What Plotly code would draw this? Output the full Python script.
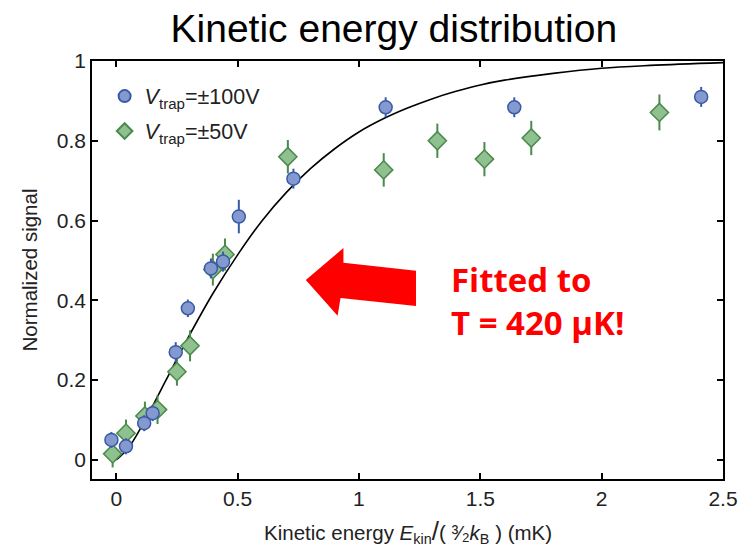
import plotly.graph_objects as go

# ---- data ----
blue_x = [-0.02, 0.04, 0.115, 0.15, 0.245, 0.295, 0.39, 0.44, 0.505, 0.73, 1.11, 1.64, 2.41]
blue_y = [0.05, 0.034, 0.092, 0.117, 0.27, 0.38, 0.48, 0.497, 0.61, 0.705, 0.884, 0.884, 0.91]
blue_err = [0.02, 0.02, 0.02, 0.02, 0.025, 0.022, 0.025, 0.025, 0.042, 0.025, 0.025, 0.025, 0.025]

green_x = [-0.015, 0.04, 0.118, 0.17, 0.25, 0.304, 0.398, 0.448, 0.707, 1.102, 1.323, 1.517, 1.71, 2.238]
green_y = [0.015, 0.067, 0.11, 0.126, 0.221, 0.286, 0.477, 0.515, 0.76, 0.727, 0.80, 0.754, 0.807, 0.871]
green_err = [0.034, 0.034, 0.036, 0.036, 0.035, 0.039, 0.04, 0.04, 0.042, 0.042, 0.043, 0.043, 0.043, 0.045]

fit_x = [0.0, 0.05, 0.1, 0.15, 0.2, 0.25, 0.3, 0.4, 0.5, 0.6, 0.7, 0.8, 0.9, 1.0,
         1.1, 1.2, 1.3, 1.4, 1.5, 1.6, 1.8, 2.0, 2.2, 2.5]
fit_y = [0.0, 0.03, 0.079, 0.135, 0.194, 0.253, 0.311, 0.419, 0.514, 0.599, 0.670, 0.730,
         0.780, 0.822, 0.855, 0.882, 0.905, 0.924, 0.940, 0.952, 0.969, 0.982, 0.989, 0.996]

x_ticks = [0, 0.5, 1, 1.5, 2, 2.5]
x_tick_text = ["0", "0.5", "1", "1.5", "2", "2.5"]
y_ticks = [0, 0.2, 0.4, 0.6, 0.8, 1]
y_tick_text = ["0", "0.2", "0.4", "0.6", "0.8", "1"]

BLUE_EDGE = "#3b5aa6"
BLUE_FILL = "#8499cf"
GREEN_EDGE = "#4a8a4a"
GREEN_FILL = "#8fc08f"
FONT = "Liberation Sans, Arial, sans-serif"

fig = go.Figure()

fig.add_trace(go.Scatter(
    x=fit_x, y=fit_y, mode="lines", line=dict(color="black", width=1.6, shape="spline"),
    showlegend=False, hoverinfo="skip"))

fig.add_trace(go.Scatter(
    x=green_x, y=green_y, mode="markers",
    name="<i>V</i><sub>trap</sub>=±50V",
    legendrank=2, legendgroup="g",
    marker=dict(symbol="diamond", size=14, color=GREEN_FILL, line=dict(color=GREEN_EDGE, width=1.5)),
    error_y=dict(type="data", array=green_err, color=GREEN_EDGE, thickness=2, width=0)))

fig.add_trace(go.Scatter(
    x=blue_x, y=blue_y, mode="markers",
    name="<i>V</i><sub>trap</sub>=±100V",
    legendrank=1, legendgroup="b",
    marker=dict(symbol="circle", size=13, color=BLUE_FILL, line=dict(color=BLUE_EDGE, width=1.5)),
    error_y=dict(type="data", array=blue_err, color=BLUE_EDGE, thickness=2, width=0)))

# red block arrow (decoration)
fig.add_shape(type="path", xref="x", yref="y",
              path="M 0.781 0.451 L 0.936 0.531 L 0.936 0.494 L 1.235 0.474 L 1.235 0.386 "
                   "L 0.924 0.406 L 0.912 0.361 Z",
              fillcolor="#ff0000", line=dict(width=0), layer="above")

fig.add_annotation(x=1.37, y=0.398, xref="x", yref="y", xanchor="left", yanchor="middle",
                   align="left", showarrow=False,
                   text="<b>Fitted to<br>T = 420 μK!</b>",
                   font=dict(family="Open Sans, Lato, sans-serif", size=33, color="#ff0000"))

fig.add_annotation(x=0.5, y=-0.125, xref="paper", yref="paper", xanchor="center", yanchor="middle",
                   showarrow=False,
                   text="Kinetic energy <i>E</i><sub>kin</sub><span style='font-size:26px'>/</span>( ³⁄₂<i>k</i><sub>B</sub> ) (mK)",
                   font=dict(family=FONT, size=20.5, color="#222"))

fig.update_layout(
    width=742, height=539,
    paper_bgcolor="white", plot_bgcolor="white",
    margin=dict(l=84, r=22, t=53, b=68),
    title=dict(text="Kinetic energy distribution", x=0.52, xanchor="center", y=0.962, yanchor="middle",
               font=dict(family=FONT, size=39, color="black")),
    font=dict(family=FONT, size=20, color="#222"),
    legend=dict(x=0.02, y=0.965, xanchor="left", yanchor="top", bgcolor="rgba(0,0,0,0)",
                font=dict(family=FONT, size=21.5, color="#222"), itemsizing="constant",
                traceorder="grouped", tracegroupgap=4),
    showlegend=True,
)

fig.update_xaxes(range=[-0.1, 2.5], tickvals=x_ticks, ticktext=x_tick_text,
                 showline=True, linecolor="black", linewidth=1.5, mirror="ticks",
                 ticks="inside", ticklen=6, tickwidth=1.5, tickcolor="black",
                 showgrid=False, zeroline=False, tickfont=dict(size=21, color="#222"))
fig.update_yaxes(range=[-0.048, 1.0], tickvals=y_ticks, ticktext=y_tick_text,
                 showline=True, linecolor="black", linewidth=1.5, mirror="ticks",
                 ticks="inside", ticklen=6, tickwidth=1.5, tickcolor="black",
                 showgrid=False, zeroline=False, tickfont=dict(size=21, color="#222"),
                 title=dict(text="Normalized signal", font=dict(size=20.5, color="#222"), standoff=14))

fig.write_html("out.html")
